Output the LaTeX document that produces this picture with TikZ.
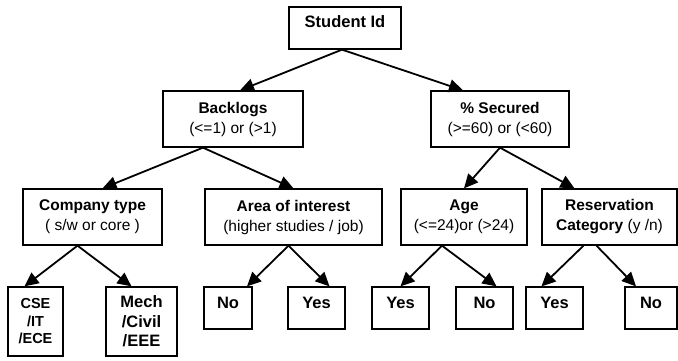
\documentclass[tikz,border=0pt]{standalone}
\usepackage{fontspec}
\setmainfont{Liberation Sans}
\usetikzlibrary{arrows.meta,positioning,calc}

\begin{document}
\begin{tikzpicture}[x=1pt,y=-1pt,
    box/.style={draw,line width=1.3pt,inner sep=0pt,align=center,font=\fontsize{15.5}{20}\selectfont},
    leaf/.style={draw,line width=1.3pt,inner sep=0pt,font=\fontsize{16.5}{20}\selectfont\bfseries,
        text height=21pt,text depth=21pt},
    link/.style={-{Triangle[length=14pt,width=13pt]},line width=1.8pt}]
    \useasboundingbox (0,0) rectangle (678,360);

    \node[leaf,minimum width=112pt,text height=20pt,text depth=22pt] (sid) at (345,28) {Student Id};

    \node[box,minimum width=140pt,minimum height=56pt] (back) at (233,119) {\textbf{Backlogs}\\(<=1) or (>1)};
    \node[box,minimum width=138pt,minimum height=56pt] (sec) at (500,119) {\textbf{\% Secured}\\(>=60) or (<60)};

    \node[box,minimum width=139pt,minimum height=56pt] (comp) at (92.5,217) {\textbf{Company type}\\( s/w or core )};
    \node[box,minimum width=177pt,minimum height=56pt] (area) at (293.5,217) {\textbf{Area of interest}\\(higher studies / job)};
    \node[box,minimum width=126pt,minimum height=56pt] (age) at (464,217) {\textbf{Age}\\(<=24)or (>24)};
    \node[box,minimum width=135pt,minimum height=56pt] (resv) at (609.5,217) {\textbf{Reservation}\\\textbf{Category} (y /n)};

    \node[box,minimum width=55pt,minimum height=69pt,font=\fontsize{14.5}{17.5}\selectfont\bfseries] (cse) at (35.5,321.5) {CSE\\/IT\\/ECE};
    \node[box,minimum width=71pt,minimum height=69pt,font=\fontsize{16.5}{19.5}\selectfont\bfseries] (mech) at (141.5,321.5) {Mech\\/Civil\\/EEE};
    \node[leaf,minimum width=48pt] (no1) at (228,308) {No};
    \node[leaf,minimum width=57pt] (yes1) at (316.5,308) {Yes};
    \node[leaf,minimum width=57pt] (yes2) at (400.5,308) {Yes};
    \node[leaf,minimum width=57pt] (no2) at (484.5,308) {No};
    \node[leaf,minimum width=57pt] (yes3) at (554.5,308) {Yes};
    \node[leaf,minimum width=52pt] (no3) at (651,308) {No};

    \draw[link] ([xshift=-3pt]sid.south) -- ([xshift=7pt]back.north);
    \draw[link] ([xshift=-3pt]sid.south) -- ([xshift=-37pt]sec.north);
    \draw[link] ([xshift=-30pt]back.south) -- ([xshift=10pt]comp.north);
    \draw[link] ([xshift=-30pt]back.south) -- (area.north);
    \draw[link] (sec.south) -- (age.north);
    \draw[link] (sec.south) -- ([xshift=-35pt]resv.north);
    \draw[link] ([xshift=-15pt]comp.south) -- ([xshift=-11pt]cse.north);
    \draw[link] ([xshift=-15pt]comp.south) -- ([xshift=-10pt]mech.north);
    \draw[link] ([xshift=-5pt]area.south) -- ([xshift=19pt]no1.north);
    \draw[link] ([xshift=-5pt]area.south) -- ([xshift=13pt]yes1.north);
    \draw[link] ([xshift=-22pt]age.south) -- (yes2.north);
    \draw[link] ([xshift=-22pt]age.south) -- ([xshift=12pt]no2.north);
    \draw[link] ([xshift=-26pt]resv.south) -- ([xshift=-13pt]yes3.north);
    \draw[link] ([xshift=-13pt]resv.south) -- ([xshift=-15pt]no3.north);
\end{tikzpicture}
\end{document}
